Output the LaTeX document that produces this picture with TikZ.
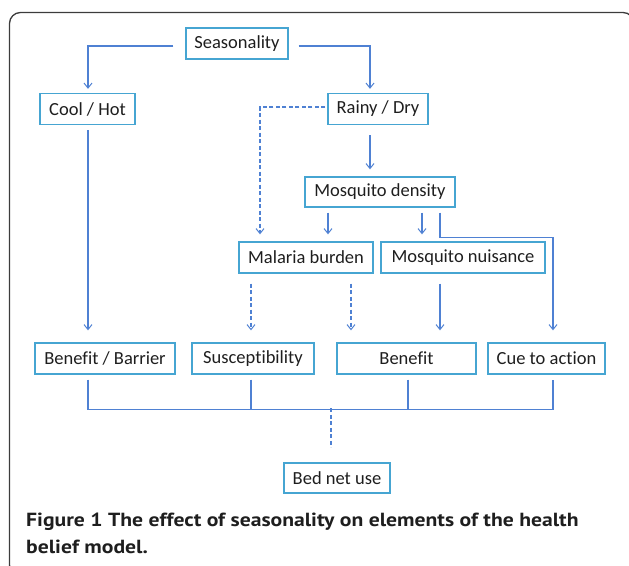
\documentclass[tikz,border=0pt]{standalone}
\usepackage{fontspec}
\setmainfont[Ligatures=NoCommon]{Carlito}
\newfontfamily\capfont[FakeStretch=1.14]{PT Sans}
\usetikzlibrary{arrows.meta,calc}
\definecolor{boxc}{RGB}{70,165,210}
\definecolor{linec}{RGB}{79,129,211}
\definecolor{txtc}{RGB}{30,30,30}
\definecolor{framec}{RGB}{60,60,60}
\tikzset{
  box/.style={draw=boxc, line width=1.3pt, inner sep=0pt, minimum height=31pt,
    font=\fontsize{18.5}{20}\selectfont, text=txtc},
  conn/.style={draw=linec, line width=1.1pt},
  arr/.style={conn, -{Straight Barb[length=5pt,width=8pt,line width=1pt]}},
  darr/.style={arr, dash pattern=on 4pt off 2.5pt},
  captxt/.style={anchor=base west, inner sep=0pt, text=txtc, font=\capfont\bfseries\fontsize{19}{22}\selectfont},
}
\begin{document}
\begin{tikzpicture}[x=1pt,y=-1pt]
\useasboundingbox (0,0) rectangle (629,565);
\draw[framec, line width=1.3pt, rounded corners=11pt] (9.5,12.5) rectangle (634,576);
% nodes
\node[box, minimum width=102pt] (seas) at (237,43.5) {Seasonality};
\node[box, minimum width=95pt]  (cool) at (87.5,109) {Cool / Hot};
\node[box, minimum width=100pt] (rainy) at (378,109) {Rainy / Dry};
\node[box, minimum width=150pt, minimum height=30pt] (dens) at (380,192) {Mosquito density};
\node[box, minimum width=134pt] (mal) at (306,257.5) {Malaria burden};
\node[box, minimum width=164pt] (nuis) at (463,257.5) {Mosquito nuisance};
\node[box, minimum width=140pt] (bb) at (105,358.5) {Benefit / Barrier};
\node[box, minimum width=122pt] (sus) at (253,358.5) {Susceptibility};
\node[box, minimum width=139pt] (ben) at (406.5,358.5) {Benefit};
\node[box, minimum width=117pt] (cue) at (546.5,358.5) {Cue to action};
\node[box, minimum width=106pt, minimum height=30pt] (bed) at (337,478) {Bed net use};
% connectors
\draw[arr] ($(seas.west)+(-12,2.5)$) -| ($(cool.north)+(0.5,-4)$);
\draw[arr] ($(seas.east)+(10,2.5)$) -| ($(rainy.north)+(-8,-4)$);
\draw[darr] ($(rainy.west)+(-2,-2)$) -| ($(mal.north)+(-46,-7)$);
\draw[arr] ($(rainy.south)+(-8,10)$) -- ($(dens.north)+(-10,-7)$);
\draw[arr] ($(cool.south)+(0.5,5)$) -- ($(bb.north)+(-17,-12)$);
\draw[arr] ($(dens.south)+(-52,5)$) -- ($(mal.north)+(22,-7)$);
\draw[arr] ($(dens.south)+(42,5)$) -- ($(nuis.north)+(-41,-7)$);
\draw[arr] ($(dens.south)+(60,5)$) -- ++(0,25) -| ($(cue.north)+(6.5,-12)$);
\draw[darr] ($(mal.south)+(-55,10)$) -- ($(sus.north)+(-2,-12)$);
\draw[darr] ($(mal.south)+(45,10)$) -- ($(ben.north)+(-55.5,-12)$);
\draw[arr] ($(nuis.south)+(-23,10)$) -- ($(ben.north)+(33.5,-12)$);
% bottom junction
\coordinate (jl) at ($(bb.south)+(-17,35)$);
\coordinate (jr) at ($(cue.south)+(6.5,35)$);
\coordinate (jm) at ($(bed.north)+(-6,-54)$);
\draw[conn] ($(bb.south)+(-17,5)$) -- (jl) -- (jr) -- ($(cue.south)+(6.5,5)$);
\draw[conn] ($(sus.south)+(-2,5)$) -- ($(sus.south)+(-2,35)$);
\draw[conn] ($(ben.south)+(1.5,5)$) -- ($(ben.south)+(1.5,35)$);
\draw[conn, dash pattern=on 4pt off 2.5pt] (jm) -- ($(bed.north)+(-6,-15)$);
% caption
\node[captxt] (cap1) at (26,526) {Figure 1 The effect of seasonality on elements of the health};
\node[captxt] (cap2) at (26,553) {belief model.};
\end{tikzpicture}
\end{document}
